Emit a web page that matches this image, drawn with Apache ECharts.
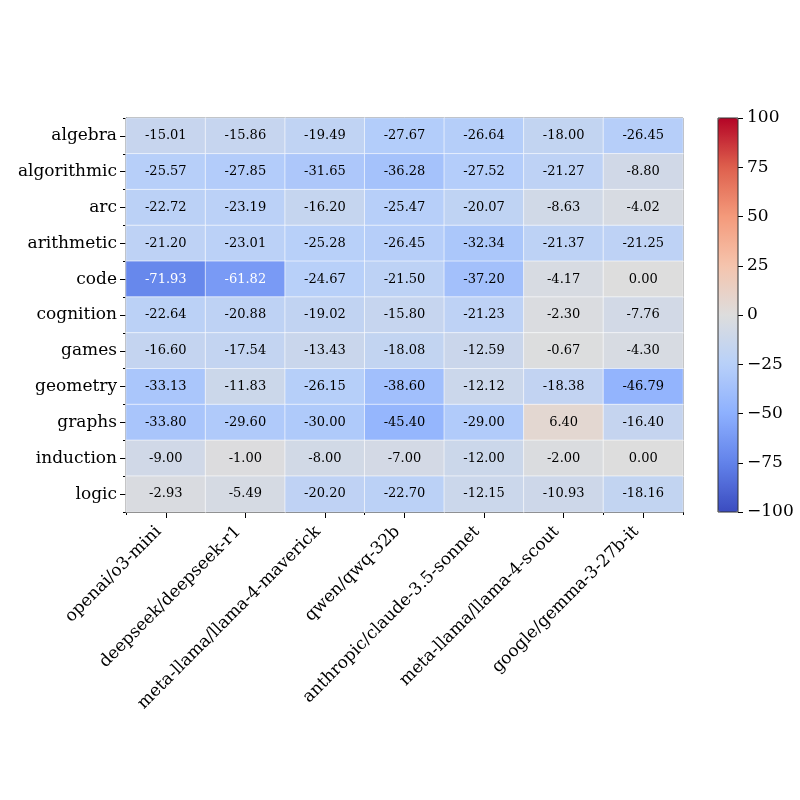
<!DOCTYPE html>
<html>
<head>
<meta charset="utf-8">
<script src="https://cdn.jsdelivr.net/npm/echarts@6/dist/echarts.min.js"></script>
<style>
  html, body { margin: 0; padding: 0; background: #fff; }
  #chart { width: 800px; height: 800px; }
</style>
</head>
<body>
<div id="chart"></div>
<script>
// models (columns) and task categories (rows)
const models = [
  'openai/o3-mini', 'deepseek/deepseek-r1', 'meta-llama/llama-4-maverick',
  'qwen/qwq-32b', 'anthropic/claude-3.5-sonnet', 'meta-llama/llama-4-scout',
  'google/gemma-3-27b-it'
]
const tasks = [
  'algebra', 'algorithmic', 'arc', 'arithmetic', 'code', 'cognition',
  'games', 'geometry', 'graphs', 'induction', 'logic'
]

// one row per task, one value per model
const algebra     = [-15.01, -15.86, -19.49, -27.67, -26.64, -18.00, -26.45]
const algorithmic = [-25.57, -27.85, -31.65, -36.28, -27.52, -21.27, -8.80]
const arc         = [-22.72, -23.19, -16.20, -25.47, -20.07, -8.63, -4.02]
const arithmetic  = [-21.20, -23.01, -25.28, -26.45, -32.34, -21.37, -21.25]
const code        = [-71.93, -61.82, -24.67, -21.50, -37.20, -4.17, 0.00]
const cognition   = [-22.64, -20.88, -19.02, -15.80, -21.23, -2.30, -7.76]
const games       = [-16.60, -17.54, -13.43, -18.08, -12.59, -0.67, -4.30]
const geometry    = [-33.13, -11.83, -26.15, -38.60, -12.12, -18.38, -46.79]
const graphs      = [-33.80, -29.60, -30.00, -45.40, -29.00, 6.40, -16.40]
const induction   = [-9.00, -1.00, -8.00, -7.00, -12.00, -2.00, 0.00]
const logic       = [-2.93, -5.49, -20.20, -22.70, -12.15, -10.93, -18.16]
const rows = [algebra, algorithmic, arc, arithmetic, code, cognition, games, geometry, graphs, induction, logic]

const cbarTicks = [-100, -75, -50, -25, 0, 25, 50, 75, 100]

// coolwarm
const coolwarm = ['#3b4cc0', '#6282ea', '#8db0fe', '#b8d0f9', '#dddddd', '#f5c4ad', '#f49a7b', '#de604d', '#b40426']

const font = '"DejaVu Serif", serif'

const data = []
rows.forEach((vals, r) => {
  vals.forEach((v, c) => {
    data.push({
      value: [c, r, v],
      label: { color: Math.abs(v) > 55 ? '#ffffff' : '#000000' }
    })
  })
})

const fmt = v => (v < 0 ? '\u2212' + Math.abs(v) : String(v))

const chart = echarts.init(document.getElementById('chart'))

const tickLine = { color: '#000', width: 1 }
const axisLn = { show: true, lineStyle: { color: '#000', width: 1 } }

const option = {
  backgroundColor: '#ffffff',
  textStyle: { fontFamily: font },
  animation: false,
  grid: [
    { left: 126, top: 118, width: 557, height: 394, show: true, borderColor: '#000', borderWidth: 1, backgroundColor: 'transparent' },
    { left: 718, top: 118, width: 20, height: 394, show: false }
  ],
  xAxis: [
    {
      type: 'category', data: models, gridIndex: 0, position: 'bottom',
      axisLine: axisLn,
      axisTick: { show: true, alignWithLabel: true, length: 6, lineStyle: tickLine },
      axisLabel: { rotate: 45, interval: 0, color: '#000', fontSize: 17, fontFamily: font, margin: 10, padding: [0, 10, 0, 0] },
      splitLine: { show: false }
    },
    {
      type: 'category', data: models, gridIndex: 0, position: 'bottom',
      axisLine: axisLn,
      axisTick: { show: true, length: 3, lineStyle: tickLine },
      axisLabel: { show: false },
      splitLine: { show: false }
    },
    {
      type: 'category', data: [''], gridIndex: 1, show: false
    }
  ],
  yAxis: [
    {
      type: 'category', data: tasks, gridIndex: 0, inverse: true, position: 'left',
      axisLine: axisLn,
      axisTick: { show: true, alignWithLabel: true, length: 6, lineStyle: tickLine },
      axisLabel: { interval: 0, color: '#000', fontSize: 17, fontFamily: font, margin: 9 },
      splitLine: { show: false }
    },
    {
      type: 'category', data: tasks, gridIndex: 0, inverse: true, position: 'left',
      axisLine: axisLn,
      axisTick: { show: true, length: 3, lineStyle: tickLine },
      axisLabel: { show: false },
      splitLine: { show: false }
    },
    {
      type: 'value', gridIndex: 1, position: 'right', min: -100, max: 100, interval: 25,
      axisLine: { show: false },
      axisTick: { show: true, length: 5, lineStyle: tickLine },
      axisLabel: { color: '#000', fontSize: 17, fontFamily: font, margin: 9, formatter: fmt },
      splitLine: { show: false }
    }
  ],
  visualMap: {
    type: 'continuous',
    min: cbarTicks[0],
    max: cbarTicks[cbarTicks.length - 1],
    seriesIndex: 0,
    dimension: 2,
    calculable: false,
    realtime: false,
    orient: 'vertical',
    left: 718,
    top: 118,
    padding: 0,
    itemWidth: 20,
    itemHeight: 394,
    text: null,
    showLabel: false,
    inRange: { color: coolwarm }
  },
  series: [
    {
      type: 'heatmap',
      xAxisIndex: 0,
      yAxisIndex: 0,
      data: data,
      itemStyle: { borderColor: 'rgba(255,255,255,0.6)', borderWidth: 1 },
      label: {
        show: true,
        fontSize: 13,
        fontFamily: font,
        formatter: p => p.value[2].toFixed(2)
      },
      emphasis: { disabled: true }
    }
  ],
  graphic: [
    {
      type: 'rect',
      shape: { x: 718, y: 118, width: 20, height: 394 },
      style: { fill: 'none', stroke: '#333', lineWidth: 1 },
      z: 100
    }
  ]
}

chart.setOption(option)
</script>
</body>
</html>
